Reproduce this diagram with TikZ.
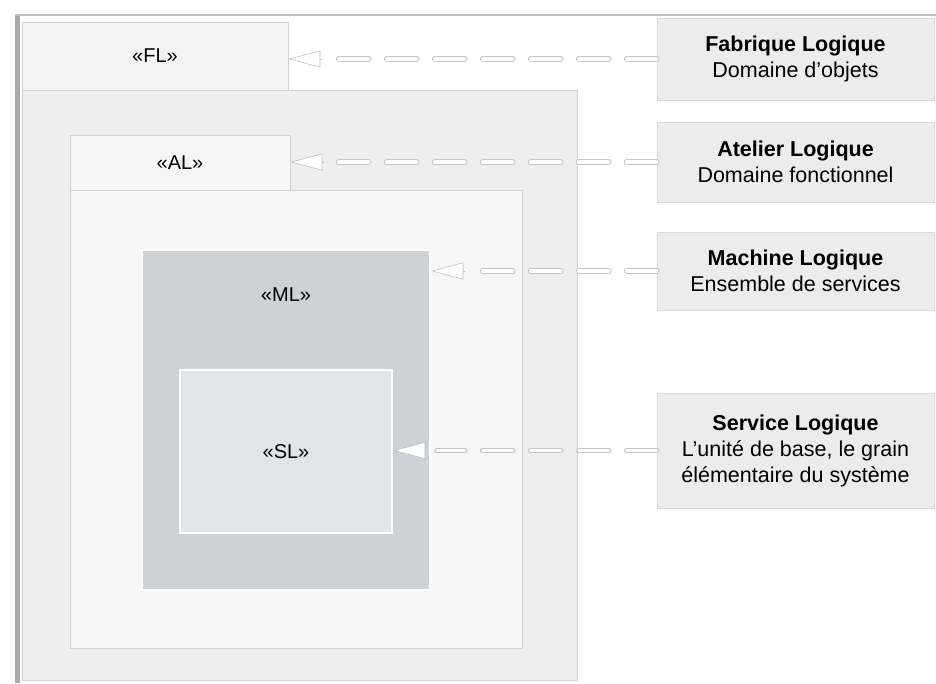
\documentclass[tikz,border=0pt]{standalone}
\usepackage{fontspec}
\setmainfont{Liberation Sans}
\usetikzlibrary{arrows.meta}

\definecolor{flgray}{RGB}{238,238,238}
\definecolor{algray}{RGB}{246,246,247}
\definecolor{mlgray}{RGB}{206,209,213}
\definecolor{slgray}{RGB}{226,228,232}
\definecolor{notegray}{RGB}{236,236,237}
\definecolor{framegray}{RGB}{170,170,172}

\begin{document}
\begin{tikzpicture}[x=1pt, y=-1pt,
    box/.style={draw=gray!35, line width=0.6pt, inner sep=0pt,
                font=\fontsize{20}{24}\selectfont},
    inner/.style={draw=white, line width=2.5pt, inner sep=0pt,
                  font=\fontsize{20}{24}\selectfont},
    stereo/.style={font=\fontsize{20}{24}\selectfont},
    note/.style={draw=gray!30, line width=0.6pt, fill=notegray, minimum width=277pt,
                 align=center, font=\fontsize{21.5}{26}\selectfont},
    link/.style={draw=gray!45, line width=1.1pt, double=white, double distance=3.6pt,
                 line cap=round, dash pattern=on 30pt off 18pt, shorten >=44pt},
    headtip/.style={draw=gray!50, line width=0.6pt,
                    -{Triangle[length=32pt, width=17pt, fill=white]}}
]
\useasboundingbox (0,0) rectangle (936,683);

% page frame
\draw[framegray, line width=5pt] (17,683) -- (17,15);
\draw[framegray!70, line width=2pt] (15,15) -- (936,15);

% nested containers
\node[box, fill=flgray, minimum width=555pt, minimum height=590pt] (flbody) at (299.5,385) {};
\node[box, fill=flgray!70, minimum width=266pt, minimum height=68pt] (fltab) at (155,56) {«FL»};
\node[box, fill=algray, minimum width=452pt, minimum height=458pt] (albody) at (296,419) {};
\node[box, fill=algray, minimum width=220pt, minimum height=55pt] (altab) at (180,162.5) {«AL»};
\node[inner, fill=mlgray, minimum width=288pt, minimum height=340pt] (ml) at (286,420) {};
\node[stereo] (mltag) at (286,295) {«ML»};
\node[inner, fill=slgray, minimum width=212pt, minimum height=163pt] (sl) at (286,451.5) {«SL»};

% descriptions
\node[note, minimum height=82pt] (fab) at (795.5,59) {\textbf{Fabrique Logique}\\Domaine d'objets};
\node[note, minimum height=80pt] (ate) at (795.5,162) {\textbf{Atelier Logique}\\Domaine fonctionnel};
\node[note, minimum height=78pt] (mac) at (795.5,271) {\textbf{Machine Logique}\\Ensemble de services};
\node[note, minimum height=115pt] (ser) at (795.5,450.5) {\textbf{Service Logique}\\L'unité de base, le grain\\élémentaire du système};

% links
\draw[link] (fab.west) -- (fab.west -| fltab.east);
\draw[headtip] (fab.west -| fltab.east) ++(34,0) -- (fab.west -| fltab.east);
\draw[link] (ate.west) -- (ate.west -| altab.east);
\draw[headtip] (ate.west -| altab.east) ++(34,0) -- (ate.west -| altab.east);
\draw[link] (mac.west) -- (mac.west -| ml.east);
\draw[headtip] (mac.west -| ml.east) ++(34,0) -- (mac.west -| ml.east);
\draw[link] (ser.west) -- (ser.west -| sl.east);
\draw[headtip] (ser.west -| sl.east) ++(34,0) -- (ser.west -| sl.east);

\end{tikzpicture}
\end{document}
